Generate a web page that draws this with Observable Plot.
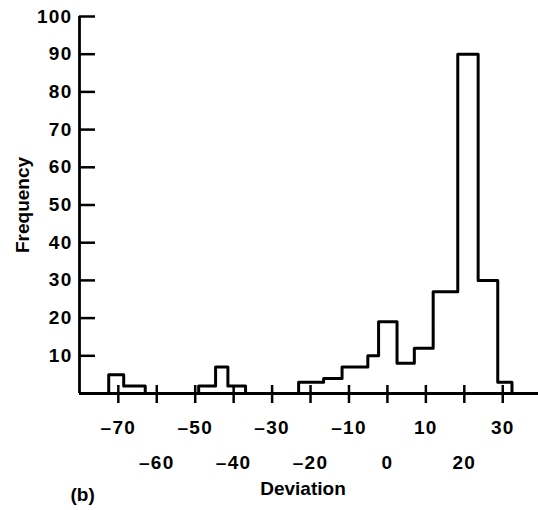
<!DOCTYPE html>
<html>
<head>
<meta charset="utf-8">
<script src="https://cdn.jsdelivr.net/npm/d3@7"></script>
<script src="https://cdn.jsdelivr.net/npm/@observablehq/plot@0.6"></script>
<style>
  html, body { margin: 0; padding: 0; background: #fff; }
  g[aria-label$="tick label"] text { letter-spacing: 1.3px; }
</style>
</head>
<body>
<div id="chart"></div>
<script>
// Bin edges (Deviation) and frequencies
const binEdges = [-72.5, -68.6, -63.0, -49.1, -44.7, -41.5, -36.9, -23.1, -16.6, -11.8, -5.1, -2.3, 2.5, 7.0, 11.9, 18.3, 23.6, 28.7, 32.4];
const frequencies = [5, 2, 0, 2, 7, 2, 0, 3, 4, 7, 10, 19, 8, 12, 27, 90, 30, 3];

// Tick labels (staggered in two rows)
const xTicksRow1 = [-70, -50, -30, -10, 10, 30];
const xTicksRow2 = [-60, -40, -20, 0, 20];
const xTicksAll = [-70, -60, -50, -40, -30, -20, -10, 0, 10, 20, 30];
const yTicks = [10, 20, 30, 40, 50, 60, 70, 80, 90, 100];
const yTickMarks = [0, 10, 20, 30, 40, 50, 60, 70, 80, 90, 100];

const xDomain = [-80.1, 39.3];
const yDomain = [0, 100];

const xLabel = "Deviation";
const yLabel = "Frequency";
const panelTag = "(b)";

// Outline of the histogram as a step line
const outline = [{x: binEdges[0], y: 0}];
frequencies.forEach((f, i) => outline.push({x: binEdges[i], y: f}));
outline.push({x: binEdges[binEdges.length - 1], y: 0});

const fmt = d => d < 0 ? "\u2013" + Math.abs(d) : String(d);

const chart = Plot.plot({
  width: 538,
  height: 510,
  marginLeft: 79,
  marginRight: 0,
  marginTop: 16,
  marginBottom: 117,
  style: {
    fontFamily: "'Liberation Sans', Arial, sans-serif",
    fontSize: "19px",
    fontWeight: "bold",
    color: "#000",
    background: "#fff"
  },
  x: {domain: xDomain},
  y: {domain: yDomain},
  marks: [
    // axis lines
    Plot.ruleY([yDomain[0]], {stroke: "#000", strokeWidth: 2.8}),
    Plot.ruleX([xDomain[0]], {stroke: "#000", strokeWidth: 2.8}),
    // y ticks (pointing inward) and labels
    Plot.axisY({ticks: yTickMarks, tickSize: 16, dx: 16, text: null, label: null, strokeWidth: 2.5}),
    Plot.axisY({ticks: yTicks, tickSize: 0, tickPadding: 7, tickFormat: fmt, label: null}),
    // x ticks crossing the axis
    Plot.axisX({ticks: xTicksAll, tickSize: 18, dy: -8, text: null, label: null, strokeWidth: 2.5}),
    // staggered x tick labels
    Plot.axisX({ticks: xTicksRow1, tickSize: 0, tickPadding: 27, tickFormat: fmt, label: null}),
    Plot.axisX({ticks: xTicksRow2, tickSize: 0, tickPadding: 62, tickFormat: fmt, label: null}),
    // histogram outline
    Plot.line(outline, {x: "x", y: "y", curve: "step-after", stroke: "#000", strokeWidth: 3, strokeLinejoin: "round"}),
    // axis titles and panel tag
    Plot.text([xLabel], {frameAnchor: "bottom", text: d => d, dx: -6, dy: 95, textAnchor: "middle", lineAnchor: "middle", fontSize: 19, fontWeight: "bold"}),
    Plot.text([yLabel], {frameAnchor: "left", text: d => d, rotate: -90, dx: -57, textAnchor: "middle", lineAnchor: "middle", fontSize: 19, fontWeight: "bold"}),
    Plot.text([panelTag], {frameAnchor: "bottom-left", text: d => d, dx: -9, dy: 101, textAnchor: "start", lineAnchor: "middle", fontSize: 19, fontWeight: "bold"})
  ]
});

document.getElementById("chart").appendChild(chart);
</script>
</body>
</html>
